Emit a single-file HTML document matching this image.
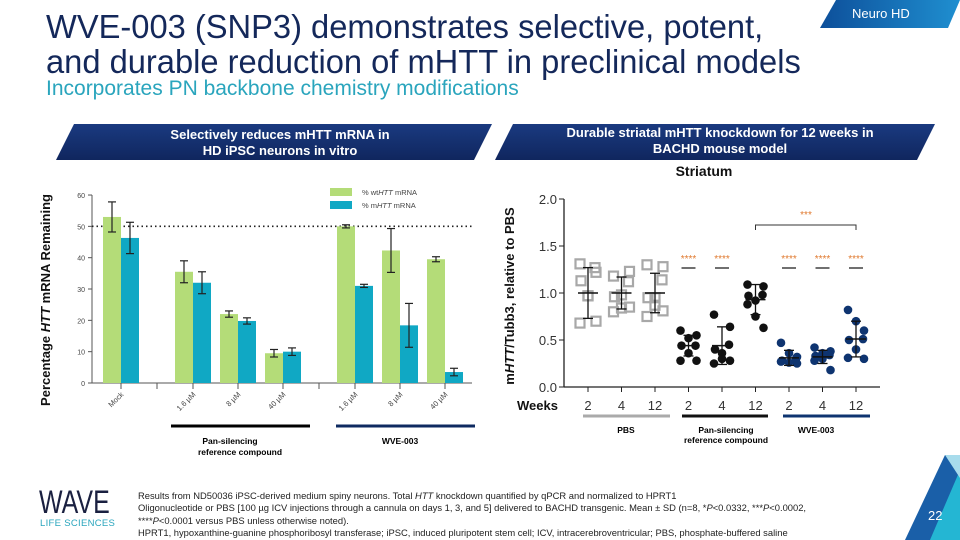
<!DOCTYPE html>
<html><head><meta charset="utf-8">
<style>
body{margin:0;width:960px;height:540px;overflow:hidden;background:#fff;font-family:"Liberation Sans","DejaVu Sans",sans-serif;position:relative}
.t{position:absolute;white-space:nowrap}
</style></head>
<body>
<div class="t" style="left:46px;top:9px;font-size:33px;line-height:35px;color:#14285a;transform-origin:0 0;transform:scaleX(0.99)">WVE-003 (SNP3) demonstrates selective, potent,<br>and durable reduction of mHTT in preclinical models</div>
<div class="t" style="left:46px;top:77px;font-size:21px;color:#2aa5bd;">Incorporates PN backbone chemistry modifications</div>
<svg width="960" height="540" style="position:absolute;left:0;top:0">
<defs><linearGradient id="g1" x1="0" x2="1"><stop offset="0" stop-color="#0d4f9a"/><stop offset="1" stop-color="#1f8fd0"/></linearGradient>
<linearGradient id="g2" x1="0" y1="0" x2="0" y2="1"><stop offset="0" stop-color="#1a3a80"/><stop offset="1" stop-color="#10265e"/></linearGradient></defs>
<polygon points="836,0 960,0 948,28 820,28" fill="url(#g1)"/>
<polygon points="74,124 492,124 474,160 56,160" fill="url(#g2)"/>
<polygon points="513,124 935,124 917,160 495,160" fill="url(#g2)"/>
<polygon points="905,540 945,455 960,455 960,540" fill="#1a5fa8"/>
<polygon points="930,540 960,470 960,540" fill="#24b6d3"/>
<polygon points="945,455 960,455 960,478" fill="#a8dcec"/>
</svg>
<div class="t" style="left:852px;top:6px;font-size:13px;color:#fff">Neuro HD</div>
<div class="t" style="left:90px;top:127px;width:380px;text-align:center;font-size:13px;font-weight:bold;color:#fff;line-height:16px">Selectively reduces mHTT mRNA in<br>HD iPSC neurons in vitro</div>
<div class="t" style="left:520px;top:125px;width:400px;text-align:center;font-size:13px;font-weight:bold;color:#fff;line-height:16px">Durable striatal mHTT knockdown for 12 weeks in<br>BACHD mouse model</div>

<svg id="left" width="960" height="540" style="position:absolute;left:0;top:0;font-family:'Liberation Sans',sans-serif"></svg>
<svg id="right" width="960" height="540" style="position:absolute;left:0;top:0;font-family:'Liberation Sans',sans-serif"></svg>

<div class="t" style="left:39px;top:484px;font-size:32px;letter-spacing:0px;color:#1a2040;transform-origin:0 0;transform:scaleX(0.78)">WAVE</div>
<div class="t" style="left:40px;top:518px;font-size:9.5px;color:#2aa5bd;letter-spacing:0.3px">LIFE SCIENCES</div>
<div class="t" style="left:138px;top:490px;font-size:9.4px;line-height:12.3px;color:#222">Results from ND50036 iPSC-derived medium spiny neurons. Total <i>HTT</i> knockdown quantified by qPCR and normalized to HPRT1<br>Oligonucleotide or PBS [100 µg ICV injections through a cannula on days 1, 3, and 5] delivered to BACHD transgenic. Mean ± SD (n=8, *<i>P</i>&lt;0.0332, ***<i>P</i>&lt;0.0002,<br>****<i>P</i>&lt;0.0001 versus PBS unless otherwise noted).<br>HPRT1, hypoxanthine-guanine phosphoribosyl transferase; iPSC, induced pluripotent stem cell; ICV, intracerebroventricular; PBS, phosphate-buffered saline</div>
<div class="t" style="left:928px;top:508px;font-size:13px;color:#fff">22</div>

<script>
// ---------- left chart data ----------
const barCats = ["Mock","1.6 µM","8 µM","40 µM","1.6 µM","8 µM","40 µM"];
const wtVals = [53,35.5,22,9.5,50,42.3,39.5];
const wtErr = [4.8,3.5,1,1.2,0.5,7,0.8];
const mVals = [46.3,32,19.8,10,31,18.4,3.5];
const mErr = [5,3.5,1,1.2,0.5,7,1.2];
const leftTicks = [0,10,20,30,40,50,60];
// ---------- right chart data ----------
const weekLabels = ["2","4","12","2","4","12","2","4","12"];
const groupPts = [
 [1.31,1.22,1.27,1.13,0.97,0.68,0.70,0.97],
 [1.18,1.23,1.12,0.96,0.98,0.80,0.85,0.84],
 [1.30,1.28,1.14,0.95,0.95,0.75,0.81,0.87],
 [0.60,0.55,0.44,0.44,0.52,0.28,0.28,0.36],
 [0.77,0.64,0.45,0.40,0.36,0.25,0.28,0.30],
 [1.09,1.07,0.98,0.97,0.92,0.88,0.63,0.75],
 [0.47,0.32,0.30,0.28,0.26,0.27,0.25,0.36],
 [0.42,0.38,0.34,0.33,0.30,0.28,0.18,0.36],
 [0.82,0.60,0.51,0.50,0.40,0.31,0.30,0.70]];
const groupMean = [1.0,1.0,1.0,0.44,0.44,0.93,0.31,0.32,0.51];
const groupSD = [0.27,0.17,0.21,0.11,0.20,0.16,0.08,0.07,0.19];
const sigLabels = ["","","","****","****","","****","****","****"];
const rightTicks = [0,0.5,1.0,1.5,2.0];

const NS="http://www.w3.org/2000/svg";
function mk(svg,tag,attrs,txt){const e=document.createElementNS(NS,tag);for(const k in attrs)e.setAttribute(k,attrs[k]);if(txt!==undefined)e.textContent=txt;svg.appendChild(e);return e;}

// ---- left ----
const L=document.getElementById('left');
const ly=v=>383-v*3.133;
const groupX=[121,193,238,283,355,400,445];
const lx=i=>groupX[i];
const ax=92;
mk(L,'line',{x1:ax,y1:ly(0),x2:472,y2:ly(0),stroke:'#555','stroke-width':1});
mk(L,'line',{x1:ax,y1:ly(60),x2:ax,y2:ly(0),stroke:'#555','stroke-width':1});
leftTicks.forEach(t=>{
 const tk=mk(L,'line',{x1:ax-4,y1:ly(t),x2:ax,y2:ly(t),stroke:'#555'});
 
 
 const tl=mk(L,'text',{x:ax-7,y:ly(t)+3,'font-size':7,'text-anchor':'end',fill:'#444'},t);
 
 
});
[157,319].forEach(x=>mk(L,'line',{x1:x,y1:ly(0),x2:x,y2:ly(0)+6,stroke:'#555'}));
mk(L,'line',{x1:ax,y1:ly(50),x2:472,y2:ly(50),stroke:'#222','stroke-width':1.6,'stroke-dasharray':'1.5,3'});
function errBar(svg,x,v,e,y){mk(svg,'line',{x1:x,y1:y(v+e),x2:x,y2:y(v-e),stroke:'#222','stroke-width':1.2});
 mk(svg,'line',{x1:x-4,y1:y(v+e),x2:x+4,y2:y(v+e),stroke:'#222','stroke-width':1.2});
 mk(svg,'line',{x1:x-4,y1:y(v-e),x2:x+4,y2:y(v-e),stroke:'#222','stroke-width':1.2});}
barCats.forEach((c,i)=>{
 const x=lx(i);
 const b1=mk(L,'rect',{x:x-18,y:ly(wtVals[i]),width:18,height:ly(0)-ly(wtVals[i]),fill:'#b4dc78'});
 
 
 const b2=mk(L,'rect',{x:x,y:ly(mVals[i]),width:18,height:ly(0)-ly(mVals[i]),fill:'#10a8c4'});
 
 
 errBar(L,x-9,wtVals[i],wtErr[i],ly);
 errBar(L,x+9,mVals[i],mErr[i],ly);
 mk(L,'line',{x1:x,y1:ly(0),x2:x,y2:ly(0)+6,stroke:'#555'});
 const cl=mk(L,'text',{x:x+3,y:ly(0)+12,'font-size':7.5,'text-anchor':'end',fill:'#444',transform:`rotate(-45 ${x+3} ${ly(0)+12})`},c);
 
 
});
mk(L,'rect',{x:330,y:188,width:22,height:8,fill:'#b4dc78'});
mk(L,'rect',{x:330,y:201,width:22,height:8,fill:'#10a8c4'});
mk(L,'text',{x:362,y:195,'font-size':7.5,fill:'#444'}).innerHTML='% wt<tspan font-style="italic">HTT</tspan> mRNA';
mk(L,'text',{x:362,y:208,'font-size':7.5,fill:'#444'}).innerHTML='% m<tspan font-style="italic">HTT</tspan> mRNA';
mk(L,'line',{x1:171,y1:426,x2:310,y2:426,stroke:'#000','stroke-width':3});
mk(L,'line',{x1:336,y1:426,x2:475,y2:426,stroke:'#0e2a60','stroke-width':3});
mk(L,'text',{x:230,y:444,'font-size':8.5,'font-weight':'bold','text-anchor':'middle'},'Pan-silencing');
mk(L,'text',{x:240,y:455,'font-size':8.5,'font-weight':'bold','text-anchor':'middle'},'reference compound');
mk(L,'text',{x:400,y:444,'font-size':8.5,'font-weight':'bold','text-anchor':'middle'},'WVE-003');
const lt=mk(L,'text',{x:0,y:0,'font-size':13,'font-weight':'bold',fill:'#111','text-anchor':'middle',transform:'translate(50 300) rotate(-90)'});
lt.innerHTML='Percentage <tspan font-style="italic">HTT</tspan> mRNA Remaining';



// ---- right ----
const R=document.getElementById('right');
const ry=v=>387-v*94;
const rx=i=>588+i*33.5;
const rax=564;
mk(R,'text',{x:704,y:176,'font-size':14,'font-weight':'bold','text-anchor':'middle',fill:'#111'},'Striatum');
mk(R,'line',{x1:rax,y1:ry(2),x2:rax,y2:ry(0),stroke:'#222','stroke-width':1.3});
mk(R,'line',{x1:rax,y1:ry(0),x2:880,y2:ry(0),stroke:'#222','stroke-width':1.3});
rightTicks.forEach(t=>{
 const tk=mk(R,'line',{x1:rax-5,y1:ry(t),x2:rax,y2:ry(t),stroke:'#222'});
 
 
 const tl=mk(R,'text',{x:rax-7,y:ry(t)+5,'font-size':13,'text-anchor':'end',fill:'#333'},t.toFixed(1));
 
 
});
mk(R,'text',{x:517,y:410,'font-size':13,'font-weight':'bold',fill:'#111'},'Weeks');
const colors=['#a8a8a8','#a8a8a8','#a8a8a8','#111','#111','#111','#0e3470','#0e3470','#0e3470'];
const jit=[-8,8,7,-7,0,-8,8,0];
weekLabels.forEach((w,i)=>{
 const x=rx(i);
 mk(R,'line',{x1:x,y1:ry(0),x2:x,y2:ry(0)+5,stroke:'#222'});
 mk(R,'text',{x:x,y:410,'font-size':13,'text-anchor':'middle',fill:'#333'},w);
 groupPts[i].forEach((v,j)=>{
  let p;
  if(i<3){p=mk(R,'rect',{x:x+jit[j]-4.5,y:ry(v)-4.5,width:9,height:9,fill:'none',stroke:colors[i],'stroke-width':2.2});}
  else{p=mk(R,'circle',{cx:x+jit[j],cy:ry(v),r:4.3,fill:colors[i]});}
  
  
 });
 const m=groupMean[i],s=groupSD[i];
 mk(R,'line',{x1:x,y1:ry(m+s),x2:x,y2:ry(m-s),stroke:'#111','stroke-width':1.3});
 mk(R,'line',{x1:x-5,y1:ry(m+s),x2:x+5,y2:ry(m+s),stroke:'#111','stroke-width':1.3});
 mk(R,'line',{x1:x-5,y1:ry(m-s),x2:x+5,y2:ry(m-s),stroke:'#111','stroke-width':1.3});
 mk(R,'line',{x1:x-10,y1:ry(m),x2:x+10,y2:ry(m),stroke:'#111','stroke-width':1.5});
 if(sigLabels[i]){
  mk(R,'text',{x:x,y:262,'font-size':10,'text-anchor':'middle',fill:'#e07a30'},sigLabels[i]);
  mk(R,'line',{x1:x-7,y1:268,x2:x+7,y2:268,stroke:'#111','stroke-width':1.2});
 }
});
mk(R,'path',{d:`M${rx(5)},230 V225 H${rx(8)} V230`,fill:'none',stroke:'#333','stroke-width':1});
mk(R,'text',{x:806,y:218,'font-size':10,'text-anchor':'middle',fill:'#e07a30'},'***');
mk(R,'line',{x1:583,y1:416,x2:670,y2:416,stroke:'#aaa','stroke-width':3});
mk(R,'line',{x1:682,y1:416,x2:768,y2:416,stroke:'#111','stroke-width':3});
mk(R,'line',{x1:783,y1:416,x2:870,y2:416,stroke:'#0e3470','stroke-width':3});
mk(R,'text',{x:626,y:433,'font-size':8.5,'font-weight':'bold','text-anchor':'middle'},'PBS');
mk(R,'text',{x:726,y:433,'font-size':8.5,'font-weight':'bold','text-anchor':'middle'},'Pan-silencing');
mk(R,'text',{x:726,y:443,'font-size':8.5,'font-weight':'bold','text-anchor':'middle'},'reference compound');
mk(R,'text',{x:816,y:433,'font-size':8.5,'font-weight':'bold','text-anchor':'middle'},'WVE-003');
const rt=mk(R,'text',{x:0,y:0,'font-size':13,'font-weight':'bold',fill:'#111','text-anchor':'middle',transform:'translate(514 296) rotate(-90)'});
rt.innerHTML='m<tspan font-style="italic">HTT</tspan>/Tubb3, relative to PBS';


</script>
</body></html>
